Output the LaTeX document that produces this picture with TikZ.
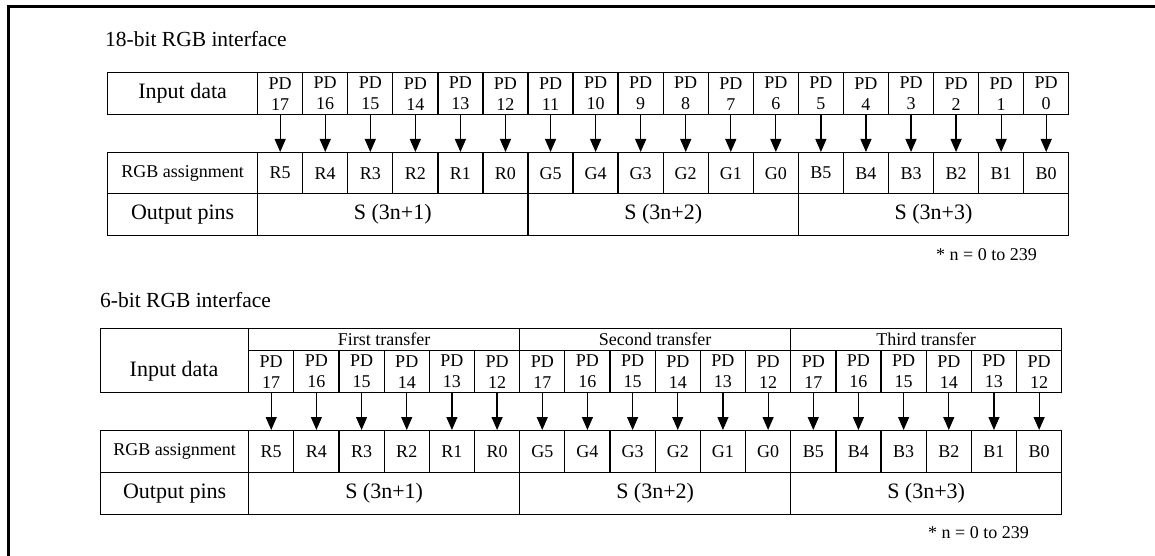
\documentclass[tikz,border=0pt]{standalone}
\usepackage{fontspec}
\setmainfont{Liberation Serif}
\usetikzlibrary{arrows.meta,positioning}

\begin{document}
\begin{tikzpicture}[x=1pt, y=-1pt,
  cell/.style={draw, line width=1.3pt, anchor=north west, inner sep=0pt, align=center, font=\fontsize{18}{21}\selectfont},
  big/.style={font=\fontsize{22}{24}\selectfont},
  arrow/.style={-{Triangle[length=13pt, width=11pt]}, line width=1.2pt},
  title/.style={anchor=base west, inner sep=0pt, font=\fontsize{21.5}{24}\selectfont},
  note/.style={anchor=base west, inner sep=0pt, font=\fontsize{18}{20}\selectfont},
]
\useasboundingbox (0,0) rectangle (1155,556);

% === FRAME ===
\coordinate (fb) at (8,556);
\coordinate (fc) at (8,7);
\coordinate (fr) at (1155,7);
\draw[line width=3pt] (fb) -- (fc) -- (fr);

% === 18-BIT RGB INTERFACE ===
\node[title] (t18) at (105,47) {18-bit RGB interface};
\node[cell, big, minimum width=150pt, minimum height=42pt] (tin) at (107,72) {Input data};
\node[cell, minimum width=150pt, minimum height=41pt] (trgb) at (107,152) {RGB assignment};
\node[cell, big, minimum width=150pt, minimum height=42pt] (tout) at (107,193) {Output pins};
\foreach \i/\c in {0/R5,1/R4,2/R3,3/R2,4/R1,5/R0,6/G5,7/G4,8/G3,9/G2,10/G1,11/G0,12/B5,13/B4,14/B3,15/B2,16/B1,17/B0} {
  \pgfmathtruncatemacro{\n}{17-\i}
  \node[cell, minimum width=45.06pt, minimum height=42pt] (tpd\i) at ({257+45.06*\i},72) {PD\\\n};
  \node[cell, minimum width=45.06pt, minimum height=41pt] (tc\i) at ({257+45.06*\i},152) {\c};
  \draw[arrow] (tpd\i.south) -- (tc\i.north);
}
\foreach \k/\s in {0/1,1/2,2/3}
  \node[cell, big, minimum width=270.36pt, minimum height=42pt] (tpin\k) at ({257+270.36*\k},193) {S (3n+\s)};
\node[note] (tnote) at (936,260) {* n = 0 to 239};

% === 6-BIT RGB INTERFACE ===
\node[title] (t6) at (100,307) {6-bit RGB interface};
\node[cell, minimum width=148pt, minimum height=64pt] (bin) at (100,328) {};
\node[big] (bintxt) at (174,371) {Input data};
\node[cell, minimum width=148pt, minimum height=42pt] (brgb) at (100,430) {RGB assignment};
\node[cell, big, minimum width=148pt, minimum height=42pt] (bout) at (100,472) {Output pins};
\foreach \k/\t in {0/First,1/Second,2/Third}
  \node[cell, minimum width=271pt, minimum height=22pt] (bx\k) at ({248+271*\k},328) {\t{} transfer};
\foreach \i/\c in {0/R5,1/R4,2/R3,3/R2,4/R1,5/R0,6/G5,7/G4,8/G3,9/G2,10/G1,11/G0,12/B5,13/B4,14/B3,15/B2,16/B1,17/B0} {
  \pgfmathtruncatemacro{\n}{17-mod(\i,6)}
  \node[cell, minimum width=45.17pt, minimum height=42pt] (bpd\i) at ({248+45.17*\i},350) {PD\\\n};
  \node[cell, minimum width=45.17pt, minimum height=42pt] (bc\i) at ({248+45.17*\i},430) {\c};
  \draw[arrow] (bpd\i.south) -- (bc\i.north);
}
\foreach \k/\s in {0/1,1/2,2/3}
  \node[cell, big, minimum width=271pt, minimum height=42pt] (bpin\k) at ({248+271*\k},472) {S (3n+\s)};
\node[note] (bnote) at (928,538) {* n = 0 to 239};
\end{tikzpicture}
\end{document}
